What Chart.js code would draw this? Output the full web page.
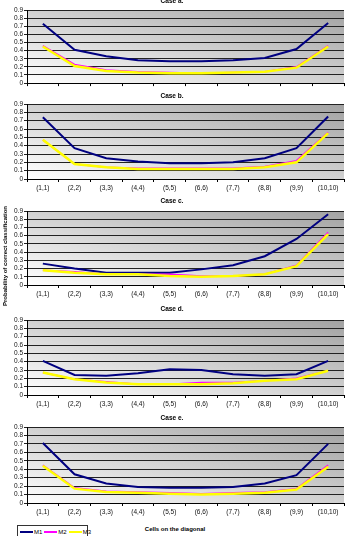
<!DOCTYPE html>
<html>
<head>
<meta charset="utf-8">
<title>Probability of correct classification</title>
<script src="https://cdn.jsdelivr.net/npm/chart.js@4/dist/chart.umd.min.js"></script>
<style>
  html, body { margin: 0; padding: 0; background: #fff; overflow: hidden; }
  #wrap { position: relative; width: 349px; height: 536px; font-family: 'Liberation Sans', Arial, sans-serif; }
  .panel { position: absolute; left: 0; width: 349px; }
  #y-title {
    position: absolute; left: 5px; top: 256px; white-space: nowrap;
    transform: translate(-50%, -50%) rotate(-90deg);
    font-size: 6px; font-weight: bold; color: #000;
  }
  #x-title {
    position: absolute; left: 175px; top: 529px; white-space: nowrap;
    transform: translate(-50%, -50%);
    font-size: 6px; font-weight: bold; color: #000;
  }
  #legend {
    position: absolute; left: 17px; top: 525px; width: 71px; height: 14px;
    border: 1px solid #333; background: #fff; display: flex; align-items: center;
    padding-left: 2px; box-sizing: border-box; font-size: 6px; color: #000;
  }
  .lg-item { display: flex; align-items: center; margin-right: 2px; }
  .lg-line { width: 13px; height: 2px; margin-right: 1px; }
</style>
</head>
<body>
<div id="wrap">
  <div id="y-title">Probability of correct classification</div>
  <div id="x-title">Cells on the diagonal</div>
  <div id="legend"></div>
</div>
<script>
// ─── Data ────────────────────────────────────────────────────────
const cells = ['(1,1)', '(2,2)', '(3,3)', '(4,4)', '(5,5)', '(6,6)', '(7,7)', '(8,8)', '(9,9)', '(10,10)'];
const seriesNames = ['M1', 'M2', 'M3'];
const caseTitles = ['Case a.', 'Case b.', 'Case c.', 'Case d.', 'Case e.'];
const yMax = 0.9;
const yStep = 0.1;

const caseA_M1 = [0.73, 0.41, 0.33, 0.28, 0.27, 0.27, 0.28, 0.31, 0.42, 0.74];
const caseA_M2 = [0.46, 0.23, 0.16, 0.14, 0.13, 0.12, 0.13, 0.14, 0.20, 0.46];
const caseA_M3 = [0.45, 0.21, 0.15, 0.13, 0.12, 0.12, 0.13, 0.14, 0.19, 0.45];

const caseB_M1 = [0.74, 0.37, 0.25, 0.21, 0.19, 0.19, 0.20, 0.25, 0.37, 0.75];
const caseB_M2 = [0.47, 0.18, 0.14, 0.13, 0.13, 0.13, 0.13, 0.15, 0.22, 0.56];
const caseB_M3 = [0.47, 0.18, 0.14, 0.12, 0.12, 0.12, 0.12, 0.14, 0.20, 0.55];

const caseC_M1 = [0.26, 0.20, 0.15, 0.15, 0.15, 0.19, 0.24, 0.35, 0.56, 0.86];
const caseC_M2 = [0.18, 0.16, 0.13, 0.13, 0.13, 0.11, 0.11, 0.13, 0.24, 0.64];
const caseC_M3 = [0.18, 0.15, 0.13, 0.13, 0.11, 0.10, 0.11, 0.13, 0.23, 0.62];

const caseD_M1 = [0.41, 0.24, 0.23, 0.26, 0.31, 0.30, 0.25, 0.23, 0.25, 0.41];
const caseD_M2 = [0.27, 0.19, 0.16, 0.13, 0.13, 0.15, 0.15, 0.17, 0.20, 0.29];
const caseD_M3 = [0.27, 0.19, 0.15, 0.13, 0.13, 0.13, 0.14, 0.17, 0.19, 0.29];

const caseE_M1 = [0.71, 0.34, 0.23, 0.19, 0.18, 0.18, 0.19, 0.23, 0.33, 0.70];
const caseE_M2 = [0.45, 0.18, 0.14, 0.13, 0.12, 0.11, 0.12, 0.13, 0.17, 0.45];
const caseE_M3 = [0.44, 0.17, 0.13, 0.12, 0.11, 0.10, 0.11, 0.12, 0.16, 0.43];

const caseSeries = [
  [caseA_M1, caseA_M2, caseA_M3],
  [caseB_M1, caseB_M2, caseB_M3],
  [caseC_M1, caseC_M2, caseC_M3],
  [caseD_M1, caseD_M2, caseD_M3],
  [caseE_M1, caseE_M2, caseE_M3]
];

// ─── Styles / layout ─────────────────────────────────────────────
const lineColors = ['#000080', '#ff00ff', '#ffff00'];
const lineWidths = [2, 1.5, 2.5];
const drawOrder  = [2, 1, 0];           // M3 painted last (on top)

// canvas top, plot top / bottom (relative to canvas), x-axis band height
const panelTop    = [-5, 90, 195, 303, 412];
const plotTopRel  = [15, 14, 16, 17, 15];
const plotBotRel  = [89, 89, 90, 92, 91];
const xBand       = [4, 14, 14, 14, 14];

Chart.defaults.font.family = "'Liberation Sans', Arial, sans-serif";
Chart.defaults.font.size = 6.5;
Chart.defaults.color = '#111';

// ─── Plot area gradient (Excel style) ────────────────────────────
const plotShade = {
  id: 'plotShade',
  beforeDraw(chart) {
    const { ctx, chartArea: a } = chart;
    ctx.save();
    ctx.translate(a.left, a.top);
    ctx.scale(a.right - a.left, a.bottom - a.top);
    const g = ctx.createLinearGradient(0, 1, 1, 0);
    g.addColorStop(0, '#ffffff');
    g.addColorStop(1, '#a2a2a2');
    ctx.fillStyle = g;
    ctx.fillRect(0, 0, 1, 1);
    ctx.restore();
  }
};

function fmtTick(v) {
  const s = v.toFixed(1);
  return s === '0.0' ? '0' : s;
}

// ─── Build panels ────────────────────────────────────────────────
const wrap = document.getElementById('wrap');

caseTitles.forEach((title, i) => {
  const h = plotBotRel[i] + xBand[i];
  const box = document.createElement('div');
  box.className = 'panel';
  box.style.top = panelTop[i] + 'px';
  box.style.height = h + 'px';
  const cv = document.createElement('canvas');
  box.appendChild(cv);
  wrap.insertBefore(box, wrap.firstChild);

  new Chart(cv, {
    type: 'line',
    data: {
      labels: cells,
      datasets: seriesNames.map((name, k) => ({
        label: name,
        data: caseSeries[i][k],
        borderColor: lineColors[k],
        backgroundColor: lineColors[k],
        borderWidth: lineWidths[k],
        pointRadius: 0,
        tension: 0,
        fill: false,
        order: drawOrder[k]
      }))
    },
    options: {
      responsive: true,
      maintainAspectRatio: false,
      animation: false,
      events: [],
      layout: { padding: { left: 0, right: 5, top: 0, bottom: 0 } },
      plugins: {
        legend: { display: false },
        tooltip: { enabled: false },
        title: {
          display: true,
          text: title,
          color: '#000',
          font: { size: 6.5, weight: 'bold', lineHeight: 1 },
          padding: { top: 2.5, bottom: plotTopRel[i] - 9 }
        }
      },
      scales: {
        x: {
          offset: true,
          grid: { offset: true, drawOnChartArea: false, drawTicks: true, tickLength: 3, color: '#000' },
          border: { display: true, color: '#000' },
          ticks: { display: i > 0, padding: 2, maxRotation: 0, autoSkip: false },
          afterFit: s => { s.height = xBand[i]; }
        },
        y: {
          min: 0,
          max: yMax,
          grid: { color: '#222', tickLength: 3 },
          border: { display: true, color: '#000' },
          ticks: { stepSize: yStep, padding: 1, autoSkip: false, callback: fmtTick },
          afterFit: s => { s.width = 27; }
        }
      }
    },
    plugins: [plotShade]
  });
});

// ─── Legend ──────────────────────────────────────────────────────
const legend = document.getElementById('legend');
seriesNames.forEach((name, k) => {
  const item = document.createElement('div');
  item.className = 'lg-item';
  item.innerHTML = `<div class="lg-line" style="background:${lineColors[k]}"></div><span>${name}</span>`;
  legend.appendChild(item);
});
</script>
</body>
</html>
